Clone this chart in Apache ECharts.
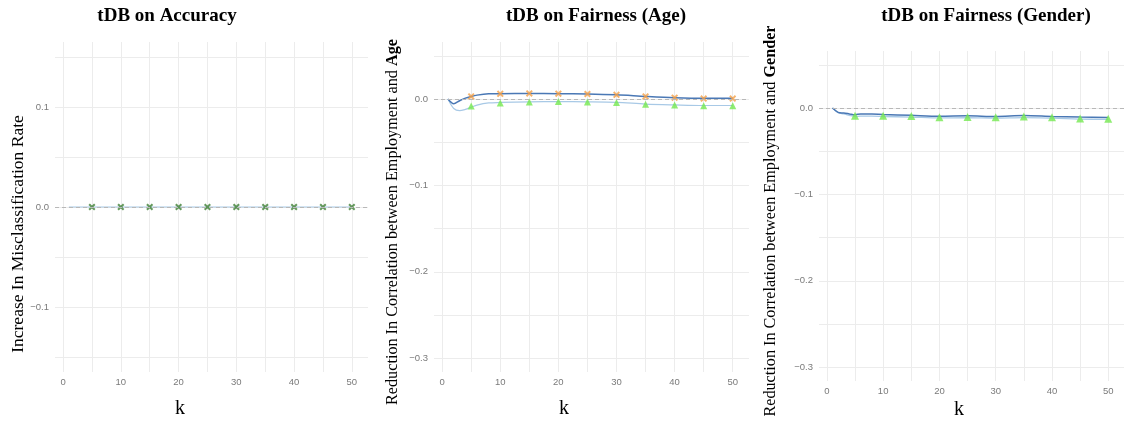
<!DOCTYPE html>
<html>
<head>
<meta charset="utf-8">
<script src="https://cdn.jsdelivr.net/npm/echarts@6/dist/echarts.min.js"></script>
<style>
html,body{margin:0;padding:0;background:#fff;}
#chart{width:1124px;height:421px;}
</style>
</head>
<body>
<div id="chart"></div>
<script>
// ---------- data ----------
var titles = ['tDB on Accuracy', 'tDB on Fairness (Age)', 'tDB on Fairness (Gender)'];
var xTickValues = [0, 5, 10, 15, 20, 25, 30, 35, 40, 45, 50];
var xLabelValues = [0, 10, 20, 30, 40, 50];
var yTickValues1 = [-0.15, -0.1, -0.05, 0, 0.05, 0.1, 0.15];
var yLabelValues1 = [-0.1, 0, 0.1];
var yTickValuesF = [-0.3, -0.25, -0.2, -0.15, -0.1, -0.05, 0, 0.05];
var yLabelValuesF = [-0.3, -0.2, -0.1, 0];

// Panel 1 (accuracy)
var accLineK = [1, 5, 10, 15, 20, 25, 30, 35, 40, 45, 50];
var accLineV = [0, 0, 0, 0, 0, 0, 0, 0, 0, 0, 0];
var accMarkK = [5, 10, 15, 20, 25, 30, 35, 40, 45, 50];
var accMarkV = [0, 0, 0, 0, 0, 0, 0, 0, 0, 0];

// Panel 2 (age)
var lineK = [1, 2, 3, 4, 5, 6, 8, 10, 15, 20, 25, 30, 35, 40, 45, 50];
var ageDarkV  = [0, -0.0055, -0.002, 0.001, 0.003, 0.0045, 0.006, 0.0062, 0.0065, 0.0062, 0.0058, 0.0048, 0.003, 0.0015, 0.0008, 0.0008];
var ageLightV = [0, -0.011, -0.0135, -0.012, -0.0095, -0.007, -0.0045, -0.004, -0.0032, -0.003, -0.0032, -0.0038, -0.0058, -0.0068, -0.0075, -0.0075];
var markK = [5, 10, 15, 20, 25, 30, 35, 40, 45, 50];
var ageCrossV = [0.003, 0.006, 0.0065, 0.0062, 0.0058, 0.0048, 0.003, 0.0015, 0.0005, 0.0005];
var ageTriV   = [-0.008, -0.0045, -0.0035, -0.003, -0.0035, -0.004, -0.006, -0.007, -0.0078, -0.0078];

// Panel 3 (gender)
var genDarkV  = [0, -0.005, -0.0058, -0.0068, -0.0078, -0.0068, -0.007, -0.0075, -0.0085, -0.0095, -0.009, -0.0098, -0.0088, -0.0098, -0.0105, -0.011];
var genLightV = [0, -0.0055, -0.0068, -0.0085, -0.0098, -0.0095, -0.0095, -0.0098, -0.0105, -0.0115, -0.0112, -0.0118, -0.0112, -0.0118, -0.0128, -0.0132];
var genTriV   = [-0.009, -0.009, -0.0092, -0.0108, -0.0105, -0.0108, -0.0097, -0.0108, -0.012, -0.0124];

// ---------- helpers ----------
function zip(a, b) { return a.map(function (v, i) { return [v, b[i]]; }); }
var crossPath = 'path://M0,2 L2,0 L5,3 L8,0 L10,2 L7,5 L10,8 L8,10 L5,7 L2,10 L0,8 L3,5 Z';
var darkBlue = '#4a78b5', lightBlue = '#a8c9e6', orange = '#f2a04a', green = '#74e850', dkGreen = '#3f7f35';
var labelStyle = { color: '#7a7a7a', fontSize: 9.5, fontFamily: 'Liberation Sans' };
var gridColor = '#ececec';

function xAxisFor(g) {
  return {
    type: 'value', gridIndex: g, min: -1.4, max: 52.8,
    axisLine: { show: false },
    axisTick: { show: false, customValues: xTickValues },
    axisLabel: Object.assign({ customValues: xLabelValues, margin: 5 }, labelStyle),
    splitLine: { show: true, lineStyle: { color: gridColor, width: 1 } }
  };
}
function yFmt(v) {
  var s = Math.abs(v) < 1e-9 ? '0.0' : v.toFixed(1);
  return s.replace('-', '\u2212');
}
function yAxisFor(g, min, max, ticks, labels) {
  return {
    type: 'value', gridIndex: g, min: min, max: max,
    axisLine: { show: false },
    axisTick: { show: false, customValues: ticks },
    axisLabel: Object.assign({ customValues: labels, margin: 6, formatter: yFmt }, labelStyle),
    splitLine: { show: true, lineStyle: { color: gridColor, width: 1 } }
  };
}
var refLine = {
  silent: true, symbol: 'none', label: { show: false },
  lineStyle: { color: '#b8b8b8', type: [4, 3], width: 1 },
  data: [{ yAxis: 0 }]
};

var chart = echarts.init(document.getElementById('chart'), null, { renderer: 'canvas' });
var serif = 'Liberation Serif';

var option = {
  animation: false,
  backgroundColor: '#ffffff',
  grid: [
    { left: 55, top: 42, width: 313, height: 330 },
    { left: 434, top: 42, width: 315, height: 330 },
    { left: 819, top: 51, width: 309, height: 330 }
  ],
  xAxis: [xAxisFor(0), xAxisFor(1), xAxisFor(2)],
  yAxis: [
    yAxisFor(0, -0.165, 0.165, yTickValues1, yLabelValues1),
    yAxisFor(1, -0.316, 0.066, yTickValuesF, yLabelValuesF),
    yAxisFor(2, -0.316, 0.066, yTickValuesF, yLabelValuesF)
  ],
  series: [
    // panel 1
    { type: 'line', xAxisIndex: 0, yAxisIndex: 0, data: zip(accLineK, accLineV), symbol: 'none',
      lineStyle: { color: lightBlue, width: 1.2 }, markLine: refLine, z: 2 },
    { type: 'scatter', xAxisIndex: 0, yAxisIndex: 0, data: zip(accMarkK, accMarkV), symbol: crossPath,
      symbolSize: 7, itemStyle: { color: dkGreen }, z: 4 },
    // panel 2
    { type: 'line', xAxisIndex: 1, yAxisIndex: 1, data: zip(lineK, ageLightV), symbol: 'none', smooth: 0.3,
      lineStyle: { color: lightBlue, width: 1.2 }, markLine: refLine, z: 2 },
    { type: 'line', xAxisIndex: 1, yAxisIndex: 1, data: zip(lineK, ageDarkV), symbol: 'none', smooth: 0.3,
      lineStyle: { color: darkBlue, width: 1.5 }, z: 3 },
    { type: 'scatter', xAxisIndex: 1, yAxisIndex: 1, data: zip(markK, ageCrossV), symbol: crossPath,
      symbolSize: 7, itemStyle: { color: orange }, z: 4 },
    { type: 'scatter', xAxisIndex: 1, yAxisIndex: 1, data: zip(markK, ageTriV), symbol: 'triangle',
      symbolSize: 7, itemStyle: { color: green }, z: 4 },
    // panel 3
    { type: 'line', xAxisIndex: 2, yAxisIndex: 2, data: zip(lineK, genLightV), symbol: 'none', smooth: 0.3,
      lineStyle: { color: lightBlue, width: 1.3 }, markLine: refLine, z: 2 },
    { type: 'line', xAxisIndex: 2, yAxisIndex: 2, data: zip(lineK, genDarkV), symbol: 'none', smooth: 0.3,
      lineStyle: { color: darkBlue, width: 1.5 }, z: 3 },
    { type: 'scatter', xAxisIndex: 2, yAxisIndex: 2, data: zip(markK, genTriV), symbol: 'triangle',
      symbolSize: 8, itemStyle: { color: green }, z: 4 }
  ],
  graphic: [
    { type: 'text', x: 167, y: 16, style: { text: titles[0], fontFamily: serif, fontWeight: 'bold', fontSize: 19, fill: '#000', align: 'center', verticalAlign: 'middle' } },
    { type: 'text', x: 596, y: 16, style: { text: titles[1], fontFamily: serif, fontWeight: 'bold', fontSize: 19, fill: '#000', align: 'center', verticalAlign: 'middle' } },
    { type: 'text', x: 986, y: 16, style: { text: titles[2], fontFamily: serif, fontWeight: 'bold', fontSize: 19, fill: '#000', align: 'center', verticalAlign: 'middle' } },
    { type: 'text', x: 18, y: 234, rotation: Math.PI / 2,
      style: { text: 'Increase In Misclassification Rate', fontFamily: serif, fontSize: 17.5, fill: '#000', align: 'center', verticalAlign: 'middle' } },
    { type: 'text', x: 393, y: 222, rotation: Math.PI / 2,
      style: { text: '{a|Reduction In Correlation between Employment and }{b|Age}', align: 'center', verticalAlign: 'middle',
        rich: { a: { fontFamily: serif, fontSize: 16.2, fill: '#000' }, b: { fontFamily: serif, fontSize: 16.2, fontWeight: 'bold', fill: '#000' } } } },
    { type: 'text', x: 771, y: 221, rotation: Math.PI / 2,
      style: { text: '{a|Reduction In Correlation between Employment and }{b|Gender}', align: 'center', verticalAlign: 'middle',
        rich: { a: { fontFamily: serif, fontSize: 16.2, fill: '#000' }, b: { fontFamily: serif, fontSize: 16.2, fontWeight: 'bold', fill: '#000' } } } },
    { type: 'text', x: 180, y: 409, style: { text: 'k', fontFamily: serif, fontSize: 20, fill: '#000', align: 'center', verticalAlign: 'middle' } },
    { type: 'text', x: 564, y: 409, style: { text: 'k', fontFamily: serif, fontSize: 20, fill: '#000', align: 'center', verticalAlign: 'middle' } },
    { type: 'text', x: 959, y: 410, style: { text: 'k', fontFamily: serif, fontSize: 20, fill: '#000', align: 'center', verticalAlign: 'middle' } }
  ]
};
chart.setOption(option);
</script>
</body>
</html>
